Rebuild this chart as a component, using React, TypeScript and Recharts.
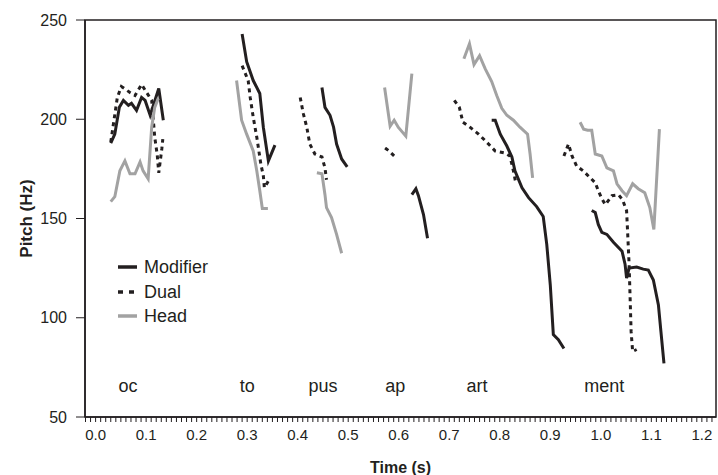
import { LineChart, Line, XAxis, YAxis, ReferenceArea, ReferenceDot, Legend } from 'recharts';

type Pt = [number, number];

// [time (s), pitch (Hz)] per syllable, one sub-array per voiced stretch
const modifierSegments: Pt[][] = [
  [[0.030, 188], [0.038, 192.5], [0.047, 206], [0.055, 209.5], [0.065, 207], [0.071, 208], [0.081, 204.5], [0.091, 211], [0.098, 209.5], [0.108, 202], [0.125, 215.5], [0.134, 199.5]],
  [[0.290, 243], [0.299, 229], [0.312, 219.5], [0.325, 213], [0.332, 196], [0.342, 179], [0.355, 187]],
  [[0.448, 216], [0.454, 206], [0.464, 202], [0.471, 196], [0.477, 187.5], [0.487, 180], [0.498, 176]],
  [[0.626, 162], [0.634, 165], [0.639, 161.5], [0.649, 152], [0.657, 140]],
  [[0.784, 199.5], [0.791, 199.5], [0.801, 192.5], [0.814, 186.5], [0.824, 181], [0.830, 174], [0.844, 165.5], [0.857, 160.5], [0.873, 156], [0.886, 151], [0.893, 137], [0.900, 116.5], [0.906, 91.5], [0.916, 89], [0.927, 84.5]],
  [[0.982, 154], [0.989, 153], [0.995, 147], [1.002, 143], [1.012, 142], [1.025, 138], [1.042, 133.5], [1.048, 127], [1.051, 120], [1.056, 125], [1.071, 125.5], [1.084, 124.5], [1.094, 124], [1.104, 119], [1.114, 106.5], [1.119, 93], [1.125, 77]],
];

const dualSegments: Pt[][] = [
  [[0.030, 188.5], [0.043, 211], [0.051, 216.5], [0.068, 213.5], [0.078, 212], [0.091, 217.5], [0.101, 213.5], [0.111, 209.5], [0.117, 191], [0.122, 182], [0.125, 173], [0.131, 185], [0.133, 190]],
  [[0.290, 227], [0.302, 219.5], [0.306, 211], [0.312, 201], [0.319, 191], [0.322, 186], [0.327, 177.5], [0.332, 171.5], [0.334, 165.5], [0.340, 168], [0.343, 169.5]],
  [[0.405, 211], [0.411, 203], [0.418, 196], [0.424, 187.5], [0.434, 182.5], [0.448, 181], [0.454, 175.5], [0.457, 169.5]],
  [[0.573, 185.5], [0.581, 184], [0.593, 181]],
  [[0.710, 209.5], [0.720, 206], [0.727, 198.5], [0.741, 196], [0.758, 192.5], [0.774, 188.5], [0.791, 184], [0.810, 183], [0.820, 181.5], [0.827, 174], [0.832, 167.5]],
  [[0.927, 181.5], [0.936, 187.5], [0.943, 181.5], [0.952, 176.5], [0.965, 174], [0.979, 170.5], [0.989, 168], [0.995, 164], [1.002, 160], [1.009, 157], [1.022, 161.5], [1.035, 162], [1.043, 159.5], [1.051, 154], [1.053, 143.5], [1.056, 127], [1.058, 110], [1.060, 93], [1.063, 83], [1.071, 84]],
];

const headSegments: Pt[][] = [
  [[0.030, 158.5], [0.038, 161], [0.048, 174], [0.058, 179], [0.068, 172.5], [0.078, 172.5], [0.088, 178.5], [0.094, 174], [0.104, 170], [0.111, 196], [0.117, 206], [0.124, 210.5]],
  [[0.279, 219.5], [0.289, 199.5], [0.299, 192.5], [0.312, 184], [0.319, 174], [0.325, 164], [0.330, 155], [0.341, 155]],
  [[0.438, 173], [0.448, 172.5], [0.454, 162], [0.457, 155.5], [0.467, 150.5], [0.477, 142], [0.487, 132.5]],
  [[0.572, 216], [0.583, 196.5], [0.591, 199.5], [0.599, 196], [0.614, 191.5], [0.626, 223]],
  [[0.729, 230.5], [0.740, 238], [0.749, 227.5], [0.760, 232], [0.771, 225.5], [0.784, 219], [0.794, 212], [0.804, 205.5], [0.814, 202], [0.827, 199.5], [0.840, 196], [0.855, 192.5], [0.860, 182.5], [0.865, 170.5]],
  [[0.959, 198.5], [0.966, 195], [0.974, 194.5], [0.982, 194.5], [0.989, 182.5], [1.002, 181.5], [1.012, 175.5], [1.025, 174], [1.032, 167.5], [1.042, 164], [1.051, 161.5], [1.063, 167.5], [1.074, 165], [1.087, 163], [1.097, 155.5], [1.105, 144.5], [1.116, 195]],
];

const syllables = [
  { t: 0.064, text: 'oc' },
  { t: 0.300, text: 'to' },
  { t: 0.450, text: 'pus' },
  { t: 0.593, text: 'ap' },
  { t: 0.755, text: 'art' },
  { t: 1.007, text: 'ment' },
];
const syllableHz = 66;

const yTicks = [50, 100, 150, 200, 250];
// minor ticks every 10 ms, labels every 100 ms
const xTicks = Array.from({ length: 125 }, (_, i) => (i - 2) / 100);

const X_DOMAIN: [number, number] = [-0.021, 1.228];
const Y_DOMAIN: [number, number] = [50, 250];
const INK = '#231f20';
const GREY = '#a2a2a2';
const FONT = '"Liberation Sans", Arial, sans-serif';

// join stretches, with a null row between them so the line breaks
function toRows(segments: Pt[][]) {
  const rows: { t: number; hz: number | null }[] = [];
  segments.forEach((seg, i) => {
    if (i > 0) {
      const prev = segments[i - 1];
      rows.push({ t: (prev[prev.length - 1][0] + seg[0][0]) / 2, hz: null });
    }
    seg.forEach(([t, hz]) => rows.push({ t, hz }));
  });
  return rows;
}

const series = [
  { name: 'Modifier', rows: toRows(modifierSegments), color: INK, dash: undefined as string | undefined },
  { name: 'Dual', rows: toRows(dualSegments), color: INK, dash: '4 4' },
  { name: 'Head', rows: toRows(headSegments), color: GREY, dash: undefined as string | undefined },
];

function LegendBox() {
  return (
    <div style={{ fontFamily: FONT, fontSize: 18, color: INK, lineHeight: '24.5px' }}>
      {series.map(s => (
        <div key={s.name} style={{ display: 'flex', alignItems: 'center' }}>
          <svg width={24} height={10} style={{ marginRight: 4 }}>
            <line x1={2} y1={5} x2={21} y2={5} stroke={s.color} strokeWidth={3.5} strokeDasharray={s.dash ? '5 6' : undefined} />
          </svg>
          <span>{s.name}</span>
        </div>
      ))}
    </div>
  );
}

export default function App() {
  return (
    <div style={{ position: 'absolute', left: 0, top: 0, fontFamily: FONT }}>
      <LineChart width={718} height={475} margin={{ top: 20, right: 2, bottom: 2, left: 0 }}>
        <XAxis
          dataKey="t"
          type="number"
          domain={X_DOMAIN}
          ticks={xTicks}
          interval={0}
          allowDataOverflow
          tickSize={5}
          tickMargin={7}
          tickFormatter={(v: number) => (Math.round(v * 100) % 10 === 0 ? v.toFixed(1) : '')}
          tick={{ fontSize: 15, fill: INK, fontFamily: FONT }}
          tickLine={{ stroke: INK, strokeWidth: 1 }}
          axisLine={{ stroke: INK, strokeWidth: 1.5 }}
          height={56}
          label={{ value: 'Time (s)', position: 'insideBottom', offset: 0, fontSize: 16, fontWeight: 'bold', fill: INK, fontFamily: FONT }}
        />
        <YAxis
          type="number"
          domain={Y_DOMAIN}
          ticks={yTicks}
          interval={0}
          width={85}
          tickSize={9}
          tickMargin={9}
          tick={{ fontSize: 16, fill: INK, fontFamily: FONT }}
          tickLine={{ stroke: INK, strokeWidth: 1 }}
          axisLine={{ stroke: INK, strokeWidth: 1.5 }}
          label={{ value: 'Pitch (Hz)', angle: -90, position: 'insideLeft', offset: 26, fontSize: 17, fontWeight: 'bold', fill: INK, fontFamily: FONT, style: { textAnchor: 'middle' } }}
        />
        <ReferenceArea x1={X_DOMAIN[0]} x2={X_DOMAIN[1]} y1={Y_DOMAIN[0]} y2={Y_DOMAIN[1]} fill="none" stroke={INK} strokeWidth={1.5} fillOpacity={0} />
        {series.map(s => (
          <Line
            key={s.name}
            data={s.rows}
            dataKey="hz"
            name={s.name}
            type="linear"
            stroke={s.color}
            strokeWidth={3}
            strokeDasharray={s.dash}
            strokeLinejoin="miter"
            dot={false}
            activeDot={false}
            connectNulls={false}
            isAnimationActive={false}
          />
        ))}
        {syllables.map(s => (
          <ReferenceDot
            key={s.text}
            x={s.t}
            y={syllableHz}
            r={0}
            fill="none"
            stroke="none"
            label={{ value: s.text, position: 'center', fontSize: 18, fill: INK, fontFamily: FONT }}
          />
        ))}
        <Legend
          layout="vertical"
          align="center"
          verticalAlign="middle"
          wrapperStyle={{ left: 116, top: 255, width: 'auto' }}
          content={() => <LegendBox />}
        />
      </LineChart>
    </div>
  );
}
